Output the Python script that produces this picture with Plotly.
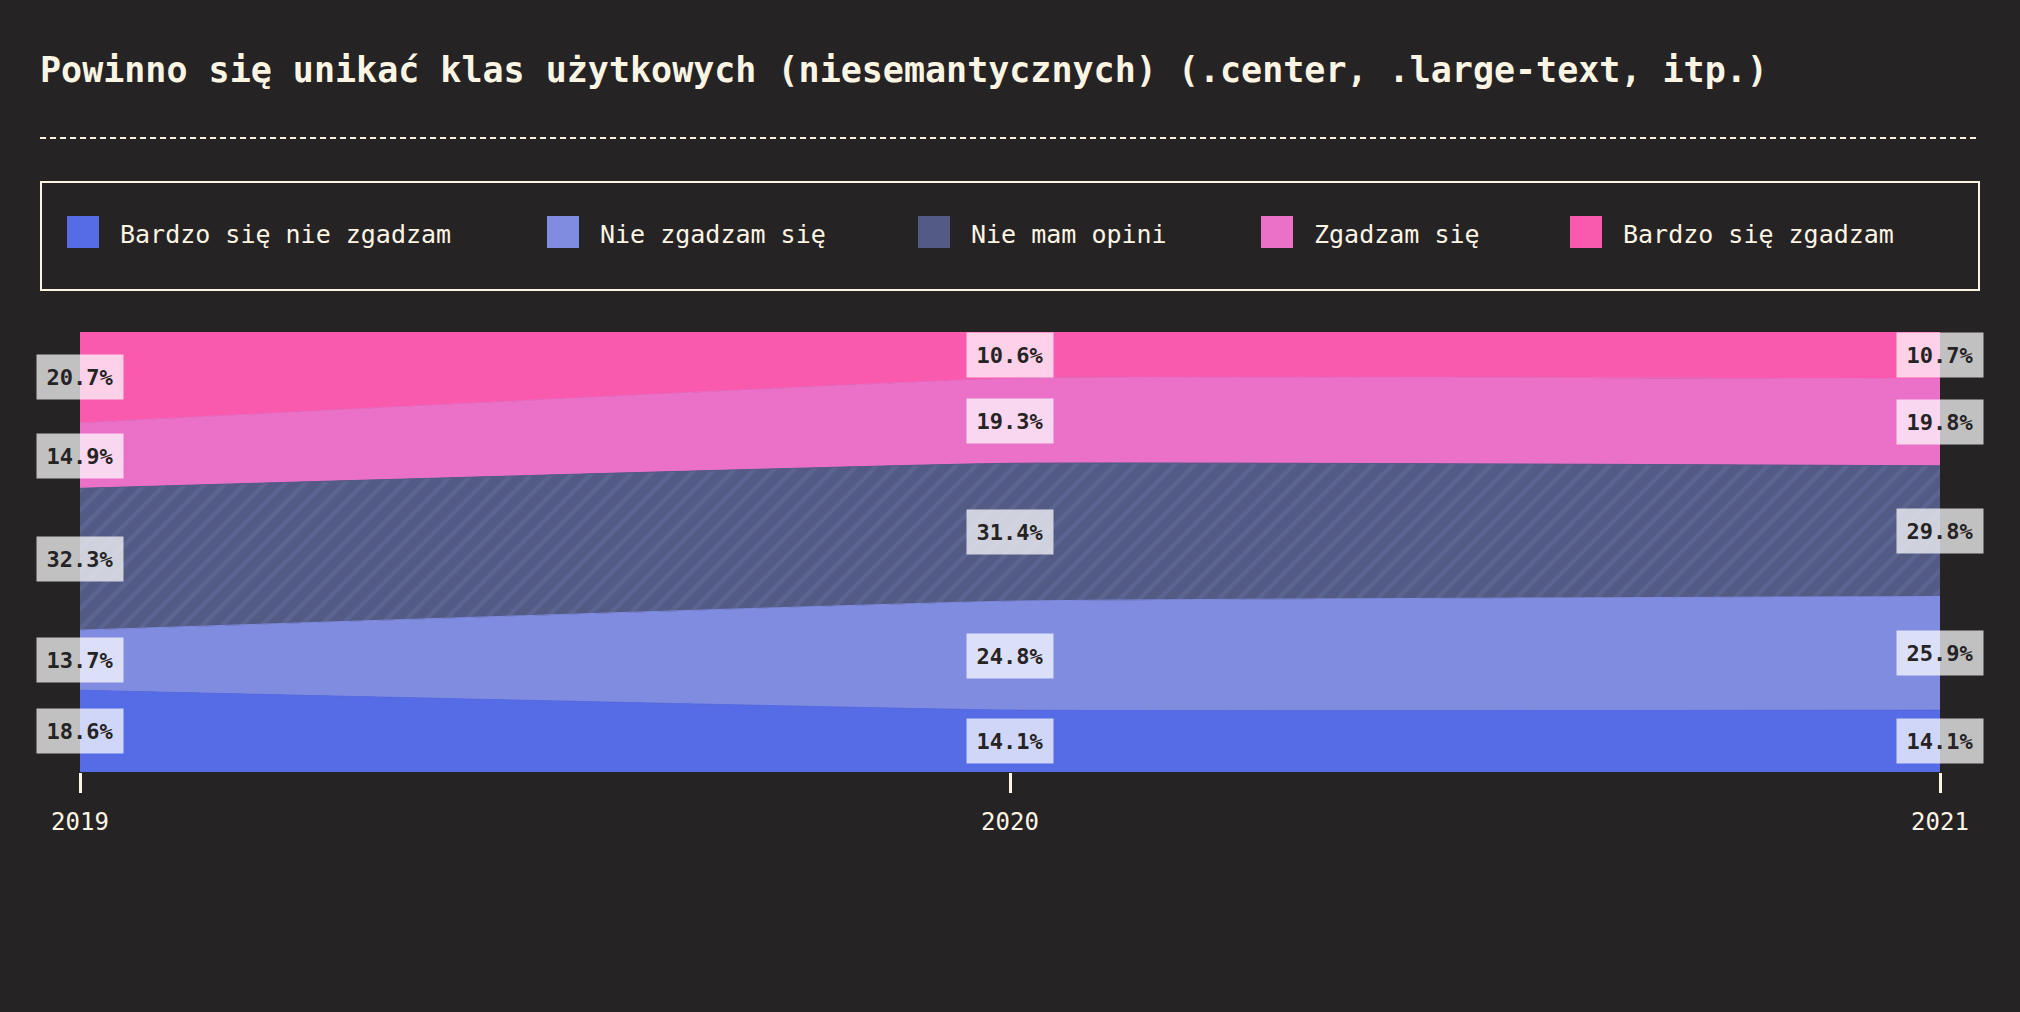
import plotly.graph_objects as go

# ---------------- data ----------------
years = ["2019", "2020", "2021"]
series_names = [
    "Bardzo się nie zgadzam",
    "Nie zgadzam się",
    "Nie mam opini",
    "Zgadzam się",
    "Bardzo się zgadzam",
]
bardzo_nie = [18.6, 14.1, 14.1]
nie_zgadzam = [13.7, 24.8, 25.9]
brak_opinii = [32.3, 31.4, 29.8]
zgadzam = [14.9, 19.3, 19.8]
bardzo_zgadzam = [20.7, 10.6, 10.7]
series_values = [bardzo_nie, nie_zgadzam, brak_opinii, zgadzam, bardzo_zgadzam]
title_text = "Powinno się unikać klas użytkowych (niesemantycznych) (.center, .large-text, itp.)"

# ---------------- style ----------------
colors = ["#566be6", "#7f8ce0", "#535b85", "#ea70c8", "#fa5aae"]
BG = "#262324"
CREAM = "#fdf5e4"
FONT = "DejaVu Sans Mono"
W, H = 2020, 1012
ML, MR, MT, MB = 80, 80, 332, 240
PW, PH = W - ML - MR, H - MT - MB


def px_x(x):
    return (x - ML) / PW


def px_y(y):
    return (H - MB - y) / PH


fig = go.Figure()
xs = [int(y) for y in years]
for i, (name, vals) in enumerate(zip(series_names, series_values)):
    kw = {}
    if i == 2:
        kw["fillpattern"] = dict(shape="/", size=14, solidity=0.3,
                                 fgcolor="#5c6491", bgcolor=colors[i],
                                 fillmode="replace")
    fig.add_trace(go.Scatter(
        x=xs, y=vals, name=name, mode="lines",
        stackgroup="one", groupnorm="percent",
        line=dict(width=1, color=colors[i], shape="spline", smoothing=0.35),
        fillcolor=colors[i], showlegend=False, hoverinfo="skip", **kw))

# value labels at band centres
annotations = []
for j, yr in enumerate(xs):
    total = sum(v[j] for v in series_values)
    cum = 0.0
    for vals in series_values:
        share = vals[j] / total * 100
        mid = cum + share / 2
        cum += share
        annotations.append(dict(
            x=yr, y=mid, xref="x", yref="y", text=f"{vals[j]:.1f}%",
            showarrow=False, width=86, height=44, borderpad=0,
            bgcolor="rgba(255,255,255,0.72)",
            font=dict(family=FONT, size=22, color="#262324", weight="bold"),
            xanchor="center", yanchor="middle"))

# manual legend
legend_sq_x = [67, 547, 918, 1261, 1570]
shapes = []
for name, col, sx in zip(series_names, colors, legend_sq_x):
    shapes.append(dict(type="rect", xref="paper", yref="paper",
                       x0=px_x(sx), x1=px_x(sx + 32), y0=px_y(248), y1=px_y(216),
                       fillcolor=col, line=dict(width=0)))
    annotations.append(dict(x=px_x(sx + 51), y=px_y(234), xref="paper", yref="paper",
                            text=name, showarrow=False, xanchor="left", yanchor="middle",
                            font=dict(family=FONT, size=25, color=CREAM)))
# legend box
shapes.append(dict(type="rect", xref="paper", yref="paper",
                   x0=px_x(41), x1=px_x(1979), y0=px_y(290), y1=px_y(182),
                   line=dict(color=CREAM, width=2), fillcolor="rgba(0,0,0,0)"))
# dashed separator
shapes.append(dict(type="line", xref="paper", yref="paper",
                   x0=px_x(40), x1=px_x(1980), y0=px_y(138), y1=px_y(138),
                   line=dict(color=CREAM, width=2, dash="6px,4px")))

fig.update_layout(
    width=W, height=H,
    paper_bgcolor=BG, plot_bgcolor=BG,
    margin=dict(l=ML, r=MR, t=MT, b=MB),
    title=dict(text=title_text, x=40 / W, xanchor="left", y=1 - 70 / H, yanchor="middle",
               xref="container", yref="container",
               font=dict(family=FONT, size=35, color=CREAM, weight="bold")),
    showlegend=False,
    xaxis=dict(range=[2019, 2021], tickvals=xs, ticktext=years, showgrid=False,
               zeroline=False, showline=False, ticks="outside", ticklen=20, tickwidth=3,
               tickcolor=CREAM, tickfont=dict(family=FONT, size=24, color=CREAM),
               ticklabelstandoff=8, fixedrange=True),
    yaxis=dict(range=[0, 100], visible=False, fixedrange=True),
    shapes=shapes, annotations=annotations,
)

fig.write_html("out.html", config={"displayModeBar": False})
